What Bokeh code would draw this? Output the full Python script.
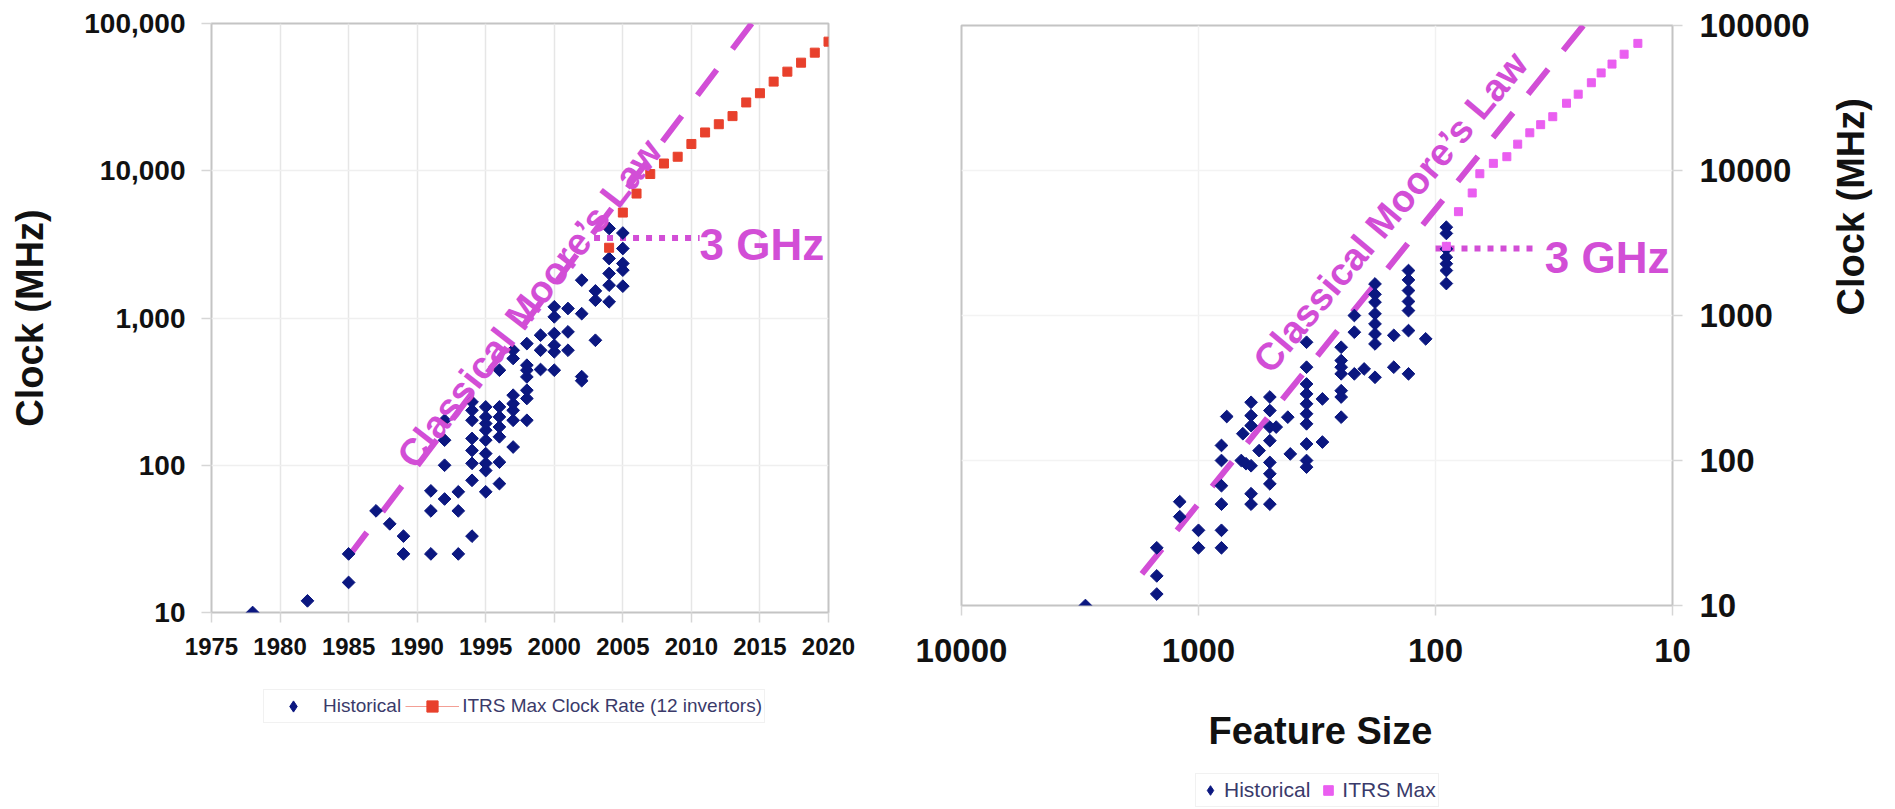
import numpy as np
from bokeh.plotting import figure
from bokeh.layouts import row, column
from bokeh.models import (Range1d, FixedTicker, NumeralTickFormatter, Legend,
                          LegendItem, Label)
from bokeh.embed import file_html
from bokeh.resources import INLINE

# ---------------- data: left panel (clock vs year) ----------------
hist_year = [1978, 1982, 1985, 1985, 1987, 1988, 1989, 1989,
             1991, 1991, 1991,
             1992, 1992, 1992, 1992,
             1993, 1993, 1993,
             1994, 1994, 1994, 1994, 1994, 1994, 1994, 1994,
             1995, 1995, 1995, 1995, 1995, 1995, 1995, 1995, 1995,
             1996, 1996, 1996, 1996, 1996, 1996, 1996,
             1997, 1997, 1997, 1997, 1997, 1997, 1997,
             1998, 1998, 1998, 1998, 1998, 1998, 1998,
             1999, 1999, 1999,
             2000, 2000, 2000, 2000, 2000, 2000,
             2001, 2001, 2001,
             2002, 2002, 2002, 2002,
             2003, 2003, 2003,
             2004, 2004, 2004, 2004, 2004,
             2005, 2005, 2005, 2005, 2005]
hist_clock = [10, 12, 16, 25, 49, 40, 25, 33,
              25, 49, 67,
              59, 100, 148, 202,
              25, 49, 66,
              33, 79, 103, 126, 152, 202, 236, 269,
              66, 92, 103, 120, 148, 173, 192, 213, 249,
              75, 105, 156, 182, 213, 249, 442,
              133, 202, 236, 262, 299, 531, 604,
              202, 284, 323, 398, 442, 478, 670,
              447, 604, 764,
              442, 589, 653, 784, 1018, 1191,
              604, 805, 1160,
              375, 400, 1070, 1807,
              706, 1321, 1528,
              1288, 1671, 2006, 2535, 4055,
              1645, 2113, 2345, 2964, 3776]

itrs_year = [2004, 2005, 2006, 2007, 2008, 2009, 2010, 2011, 2012,
             2013, 2014, 2015, 2016, 2017, 2018, 2019, 2020]
itrs_clock = [3000, 5200, 7000, 9500, 11200, 12450, 15200, 18200, 20700,
              23500, 29100, 33600, 40300, 47100, 54200, 63400, 75300]

moore_year = [2014.4, 1985]
moore_clock = [100000, 24]
ghz_year = [2002.9, 2010.6]
ghz_clock = [3500, 3500]

year_ticks = [1975, 1980, 1985, 1990, 1995, 2000, 2005, 2010, 2015, 2020]
clock_ticks = [10, 100, 1000, 10000, 100000]

# ---------------- data: right panel (clock vs feature size) ----------------
feat_size = [3000,
             1500, 1500, 1500,
             1200, 1200,
             1000, 1000,
             800, 800, 800, 800, 800, 800,
             760,
             660, 630, 650,
             600, 600, 600, 600, 600, 600,
             555,
             500, 500, 500, 500, 500, 500, 500, 500,
             470, 420, 410,
             350, 350, 350, 350, 350, 350, 350, 350, 350, 350,
             300, 300,
             250, 250, 250, 250, 250, 250, 250,
             220, 220, 220,
             200,
             180, 180, 180, 180, 180, 180, 180, 180,
             150, 150,
             130, 130, 130, 130, 130, 130, 130,
             110,
             90, 90, 90, 90, 90, 90, 90]
feat_clock = [10,
              12, 16, 25,
              41, 52,
              25, 33,
              25, 33, 50, 67, 100, 127,
              201,
              100, 95, 153,
              92, 174, 204, 252, 59, 50,
              117,
              274, 221, 170, 137, 97, 81, 69, 50,
              170, 199, 111,
              654, 440, 337, 288, 246, 210, 179, 130, 100, 90,
              266, 134,
              604, 489, 440, 396, 303, 274, 199,
              1000, 767, 396,
              428,
              1650, 1400, 1236, 1027, 875, 746, 637, 375,
              440, 730,
              2042, 1760, 1486, 1250, 1081, 787, 396,
              690,
              4064, 3680, 2880, 2524, 2275, 2042, 1661]

itrs_feature = [90, 80, 70, 65, 57, 50, 45, 40, 36, 32, 28, 25, 22, 20, 18, 16, 14]

moore_feature = [23.8, 1760]
moore_clock_r = [100000, 16]
ghz_feature = [100, 36.6]
ghz_clock_r = [2900, 2900]

feature_ticks = [10000, 1000, 100, 10]

# ---------------- styles ----------------
NAVY = "#0b1780"
RED = "#e8402c"
PINK = "#ea5ef0"
MAG = "#d24ed6"
FONT = "Liberation Sans"
LEG_TEXT = "#3a3a6a"


def style_axes(p, xfs, yfs):
    p.outline_line_color = "#c4c4c4"
    p.outline_line_width = 2
    for ax in (p.xaxis[0], p.yaxis[0]):
        ax.axis_line_color = None
        ax.major_tick_in = 0
        ax.major_tick_out = 10
        ax.major_tick_line_color = "#d6d6d6"
        ax.major_tick_line_width = 1.5
        ax.minor_tick_line_color = None
        ax.major_label_text_font = FONT
        ax.major_label_text_font_style = "bold"
        ax.major_label_text_color = "#111111"
        ax.axis_label_text_font = FONT
        ax.axis_label_text_font_style = "bold"
        ax.axis_label_text_color = "#111111"
        ax.axis_label_text_font_size = "38px"
    p.xaxis[0].major_label_text_font_size = xfs
    p.yaxis[0].major_label_text_font_size = yfs
    p.background_fill_color = "white"
    p.border_fill_color = "white"


def legend_fig(width, bl, br):
    f = figure(width=width, height=129, x_range=Range1d(0, 1),
               y_range=Range1d(0, 1), x_axis_location=None,
               y_axis_location=None, output_backend="svg",
               toolbar_location=None, min_border_left=bl,
               min_border_right=br, min_border_top=0, min_border_bottom=0)
    f.outline_line_color = None
    f.grid.visible = False
    f.background_fill_color = "white"
    f.border_fill_color = "white"
    return f


# ---------------- left figure ----------------
p1 = figure(width=908, height=680, x_range=Range1d(1975, 2020),
            y_range=Range1d(10, 100000), y_axis_type="log",
            output_backend="svg", toolbar_location=None,
            min_border_left=211, min_border_right=80,
            min_border_top=23, min_border_bottom=68)
style_axes(p1, "24px", "28px")
p1.xaxis.ticker = FixedTicker(ticks=year_ticks)
p1.xgrid.ticker = FixedTicker(ticks=year_ticks)
p1.yaxis.ticker = FixedTicker(ticks=clock_ticks)
p1.ygrid.ticker = FixedTicker(ticks=clock_ticks)
p1.yaxis.formatter = NumeralTickFormatter(format="0,0")
p1.xaxis.formatter = NumeralTickFormatter(format="0")
p1.xgrid.grid_line_color = "#e6e6e6"
p1.xgrid.grid_line_width = 1.5
p1.ygrid.grid_line_color = "#efefef"
p1.ygrid.grid_line_width = 1.5
p1.xaxis.major_label_standoff = 15
p1.yaxis.major_label_standoff = 16
p1.yaxis.axis_label = "Clock (MHz)"
p1.yaxis.axis_label_standoff = 30

p1.line(moore_year, moore_clock, line_color=MAG, line_width=6,
        line_dash="32 26")
p1.line(ghz_year, ghz_clock, line_color=MAG, line_width=6, line_dash="6 7")
p1.scatter(hist_year, hist_clock, marker="square", angle=np.pi / 4,
           size=9, fill_color=NAVY, line_color=NAVY, line_width=1)
p1.scatter(itrs_year, itrs_clock, marker="square", size=9,
           fill_color=RED, line_color=RED)

p1.add_layout(Label(x=1989.15, y=103.5, text="Classical Moore\u2019s Law",
                    angle=0.91, text_font=FONT, text_font_style="bold",
                    text_font_size="38px", text_color=MAG,
                    text_align="left", text_baseline="alphabetic"))
p1.add_layout(Label(x=2010.6, y=3180, text="3 GHz", text_font=FONT,
                    text_font_style="bold", text_font_size="44px",
                    text_color=MAG, text_align="left",
                    text_baseline="middle"))

# legend strip under the left panel (its glyphs lie outside its ranges)
lf1 = legend_fig(908, 211, 80)
ld1 = lf1.scatter(hist_year, hist_clock, marker="diamond", fill_color=NAVY,
                  line_color=NAVY, line_width=1)
ll1 = lf1.line(itrs_year, itrs_clock, line_color=RED, line_width=1,
               line_alpha=0.5)
ls1 = lf1.scatter(itrs_year, itrs_clock, marker="square", fill_color=RED,
                  line_color=RED)
leg1 = Legend(items=[LegendItem(label="Historical", renderers=[ld1]),
                     LegendItem(label="ITRS Max Clock Rate (12 invertors)",
                                renderers=[ll1, ls1])],
              location=(52, 86), orientation="horizontal", margin=0,
              padding=2, glyph_width=54, glyph_height=28, label_standoff=3,
              spacing=4, label_height=20,
              label_text_font=FONT, label_text_font_size="19px",
              label_text_color=LEG_TEXT,
              border_line_color="#e3e3e3", border_line_width=1,
              background_fill_color="white", background_fill_alpha=1)
lf1.add_layout(leg1, "center")

# ---------------- right figure ----------------
p2 = figure(width=987, height=680, x_range=Range1d(10000, 10),
            y_range=Range1d(10, 100000), x_axis_type="log",
            y_axis_type="log", y_axis_location="right",
            output_backend="svg", toolbar_location=None,
            min_border_left=53, min_border_right=216,
            min_border_top=25, min_border_bottom=75)
style_axes(p2, "33px", "33px")
p2.xaxis.ticker = FixedTicker(ticks=feature_ticks)
p2.xgrid.ticker = FixedTicker(ticks=feature_ticks)
p2.yaxis.ticker = FixedTicker(ticks=clock_ticks)
p2.ygrid.ticker = FixedTicker(ticks=clock_ticks)
p2.xaxis.formatter = NumeralTickFormatter(format="0")
p2.yaxis.formatter = NumeralTickFormatter(format="0")
p2.xgrid.grid_line_color = "#f1f1f1"
p2.xgrid.grid_line_width = 1.5
p2.ygrid.grid_line_color = "#f3f3f3"
p2.ygrid.grid_line_width = 1.5
p2.xaxis.major_label_standoff = 23
p2.yaxis.major_label_standoff = 17
p2.yaxis.axis_label = "Clock (MHz)"
p2.yaxis.axis_label_standoff = 38
try:
    p2.yaxis.axis_label_orientation = np.pi / 2
except Exception:
    pass

p2.line(moore_feature, moore_clock_r, line_color=MAG, line_width=6,
        line_dash="32 24")
p2.line(ghz_feature, ghz_clock_r, line_color=MAG, line_width=6,
        line_dash="6 7")
p2.scatter(feat_size, feat_clock, marker="square", angle=np.pi / 4,
           size=9, fill_color=NAVY, line_color=NAVY, line_width=1)
p2.scatter(itrs_feature, itrs_clock, marker="square", size=8,
           fill_color=PINK, line_color=PINK)

p2.add_layout(Label(x=545, y=440, text="Classical Moore\u2019s Law",
                    angle=0.875, text_font=FONT, text_font_style="bold",
                    text_font_size="38px", text_color=MAG,
                    text_align="left", text_baseline="alphabetic"))
p2.add_layout(Label(x=34.6, y=2495, text="3 GHz", text_font=FONT,
                    text_font_style="bold", text_font_size="44px",
                    text_color=MAG, text_align="left",
                    text_baseline="middle"))

# strip under the right panel: axis title and legend
lf2 = legend_fig(987, 53, 216)
lf2.add_layout(Label(x=359, y=79, x_units="screen", y_units="screen",
                     text="Feature Size", text_font=FONT,
                     text_font_style="bold", text_font_size="38px",
                     text_color="#111111", text_align="center",
                     text_baseline="alphabetic"))
ld2 = lf2.scatter(feat_size, feat_clock, marker="diamond", fill_color=NAVY,
                  line_color=NAVY, line_width=1)
ls2 = lf2.scatter(itrs_feature, itrs_clock, marker="square", fill_color=PINK,
                  line_color=PINK)
leg2 = Legend(items=[LegendItem(label="Historical", renderers=[ld2]),
                     LegendItem(label="ITRS Max", renderers=[ls2])],
              location=(234, 2), orientation="horizontal", margin=0,
              padding=2, glyph_width=24, glyph_height=28, label_standoff=2,
              spacing=6, label_height=20,
              label_text_font=FONT, label_text_font_size="21px",
              label_text_color=LEG_TEXT,
              border_line_color="#e3e3e3", border_line_width=1,
              background_fill_color="white", background_fill_alpha=1)
lf2.add_layout(leg2, "center")

layout = row(column(p1, lf1), column(p2, lf2))
open("out.html", "w").write(file_html(layout, INLINE))
